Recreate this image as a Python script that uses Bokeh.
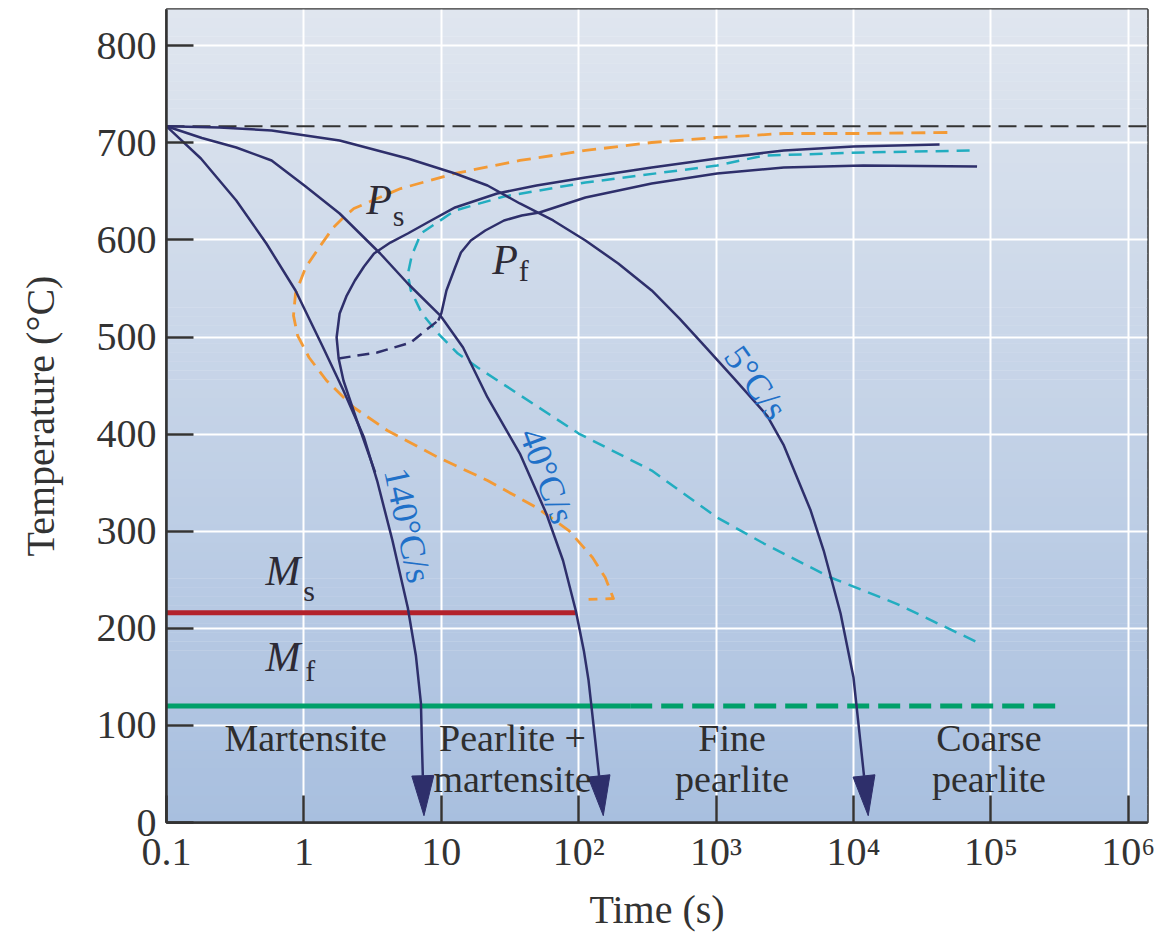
import math
from bokeh.plotting import figure
from bokeh.models import Range1d, FixedTicker
from bokeh.core.properties import value
from bokeh.embed import file_html
from bokeh.resources import INLINE

# ---------------- data (time in s, temperature in degC) ----------------
x_ticks = [0.1, 1, 10, 100, 1000, 10000, 100000, 1000000]
x_tick_labels = ["0.1", "1", "10", "10²", "10³", "10⁴", "10⁵", "10⁶"]
y_ticks = [0, 100, 200, 300, 400, 500, 600, 700, 800]

eutectoid_T = 717

rate140_t = [0.1, 0.178, 0.322, 0.533, 0.869, 1.38, 1.94, 2.74, 3.41, 4.41, 5.7, 6.53, 7.11, 7.23, 7.48]
rate140_T = [717, 683.8, 640.6, 596.3, 547.9, 489.2, 444.9, 396.5, 352.2, 290.4, 221.4, 172, 122.6, 79.3, 7]

rate40_t = [0.1, 0.181, 0.322, 0.582, 1.03, 1.82, 3.59, 5.7, 9.84, 14.4, 21.7, 37.3, 58.1, 76.9, 95.2, 109, 118, 132, 151]
rate40_T = [717, 705, 695.2, 681.8, 655, 627.2, 586, 555.1, 522.1, 489.2, 437.7, 380, 318.2, 269.8, 218.3, 177, 146.2, 84.4, 7]

rate5_t = [0.1, 0.243, 0.582, 1.82, 5.7, 12.6, 21.7, 37.3, 65.2, 112, 194, 340, 542, 820, 1349, 2344, 3112,
           4880, 6067, 8054, 10000, 11200, 12800]
rate5_T = [717, 715.8, 712.7, 702.4, 683.8, 668.4, 656, 637.5, 620, 599.4, 575.7, 547.9, 519, 491.2, 457.3, 419.2, 388.3,
           321.3, 280.1, 215.2, 149.3, 84.4, 7]

start_t = [3.30, 2.43, 1.94, 1.79, 1.73, 1.82, 2.05, 2.35, 2.74, 3.24, 4.26, 5.7, 8.43, 12.6, 25.5, 49.3, 112,
           340, 1017, 3112, 10000, 42300]
start_T = [360.5, 414, 455.2, 477.9, 499.5, 524.2, 542.7, 558.2, 572.6, 586, 597.3, 606.6, 620, 633.4, 647.8, 656,
           664.3, 674.6, 683.8, 692.1, 696.2, 698.3]

finish_t = [9.5, 10, 10.9, 12.6, 13.9, 16.4, 20.9, 28.6, 38.5, 51.8, 112, 340, 1017, 3112, 11800, 79300]
finish_T = [517, 524.2, 547.9, 571.6, 587, 599.4, 609.7, 620, 625.1, 628.2, 643.7, 658.1, 668.4, 674.6, 676.6, 675.6]

connect_t = [1.79, 3.41, 6.0, 8.0, 9.5]
connect_T = [477.9, 484, 494.3, 508.8, 517]

cyan_t = [70000, 11800, 2228, 1017, 112, 28.6, 12.6, 7.11, 6.1, 5.7, 6.0, 7.23, 9.5, 13.2, 18.4,
          100, 340, 1017, 2228, 6810, 20400, 83400]
cyan_T = [692, 690, 686.9, 676.6, 659.1, 644.7, 630.3, 606.6, 584, 564.4, 547.9, 524.2, 503.6, 483, 468.6,
          400.6, 362.5, 314.1, 287.3, 252.3, 225.5, 184.3]

orange_t = [48200, 11800, 3112, 1017, 340, 112, 37.3, 12.6, 5.06, 3.41, 2.31, 1.94, 1.64, 1.29, 1.03, 0.869, 0.84,
            0.90, 1.09, 1.46, 2.31, 4.05, 9.5, 21.7, 49.3, 84.8, 126, 156, 179, 118]
orange_T = [710.6, 709.6, 709.6, 705.5, 700.3, 692.1, 681.8, 668.4, 652.9, 642.6, 632.3, 623, 612.8, 592.2, 571.6,
            544.8, 522, 501.5, 478.9, 455.2, 427.4, 403.7, 375.9, 352.2, 324.4, 300.7, 272.9, 252.3, 230.7, 229.7]

ms_T = 216
ms_t_end = 95.2
mf_T = 120
mf_solid_end = 237
mf_dash_end = 324000

rate_labels = ["140°C/s", "40°C/s", "5°C/s"]
rate_label_t = [5.7, 59, 1950]
rate_label_T = [306, 357, 453]
rate_label_angle_deg = [-78, -70, -54.5]

region_line1 = ["Martensite", "Pearlite +", "Fine", "Coarse"]
region_line2 = ["", "martensite", "pearlite", "pearlite"]
region_t = [1.03, 33, 1306, 96800]
region_T1 = 87.5
region_T2 = 45.3

sym_main = ["P", "P", "M", "M"]
sym_sub = ["s", "f", "s", "f"]
sym_t = [3.53, 29.1, 0.705, 0.705]
sym_T = [640.6, 578.8, 258.5, 170]
sub_t = [4.89, 39.8, 1.09, 1.11]
sub_T = [625, 568.5, 239, 156.5]

# ---------------- layout ----------------
W, H = 1155, 935
BL, BR, BT, BB = 166, 8, 9, 113
frame_w = W - BL - BR
frame_h = H - BT - BB
K = 137.4          # px per decade
S = 0.971          # px per degC
x_min = 0.1
x_max = 10 ** (math.log10(x_min) + frame_w / K)
y_max = frame_h / S

NAVY = "#2e2f6b"
ORANGE = "#f39a35"
CYAN = "#22adc0"
RED = "#b3222b"
GREEN = "#00a06a"
BLUE_TXT = "#1f70c8"
SERIF = "Liberation Serif"

p = figure(width=W, height=H, x_axis_type="log", output_backend="svg", toolbar_location=None,
           x_range=Range1d(x_min, x_max), y_range=Range1d(0, y_max),
           min_border_left=BL, min_border_right=BR, min_border_top=BT, min_border_bottom=BB)
p.border_fill_color = "white"
p.outline_line_color = "#333333"
p.outline_line_width = 2.5

# gradient background (stripes)
n = 90
bot_c = (168, 191, 223)
top_c = (224, 230, 239)
lefts, rights, bots, tops, cols = [], [], [], [], []
for i in range(n):
    f = (i + 0.5) / n
    c = tuple(int(round(bot_c[k] + (top_c[k] - bot_c[k]) * f)) for k in range(3))
    lefts.append(x_min)
    rights.append(x_max)
    bots.append(i * y_max / n)
    tops.append((i + 1.05) * y_max / n)
    cols.append("#%02x%02x%02x" % c)
bg = p.quad(left=lefts, right=rights, bottom=bots, top=tops, fill_color=cols, line_color=None)
bg.level = "image"

# axes
p.xaxis.ticker = FixedTicker(ticks=x_ticks, minor_ticks=[])
p.yaxis.ticker = FixedTicker(ticks=y_ticks, minor_ticks=[])
p.xaxis.major_label_overrides = {(t if t < 1 else int(t)): lab for t, lab in zip(x_ticks, x_tick_labels)}
p.xgrid.ticker = FixedTicker(ticks=x_ticks[1:])
p.ygrid.ticker = FixedTicker(ticks=y_ticks[1:])
p.grid.grid_line_color = "white"
p.grid.grid_line_width = 2
p.grid.grid_line_alpha = 1.0
for ax in (p.xaxis, p.yaxis):
    ax.axis_line_color = "#333333"
    ax.axis_line_width = 2.5
    ax.major_tick_line_color = "#333333"
    ax.major_tick_line_width = 2.5
    ax.major_tick_out = 0
    ax.major_tick_in = 27
    ax.minor_tick_line_color = None
    ax.major_label_text_font = SERIF
    ax.major_label_text_font_size = "40px"
    ax.major_label_text_color = "#333333"
    ax.axis_label_text_font = SERIF
    ax.axis_label_text_font_size = "40px"
    ax.axis_label_text_font_style = "normal"
    ax.axis_label_text_color = "#333333"
p.xaxis.axis_label = "Time (s)"
p.yaxis.axis_label = "Temperature (°C)"
p.xaxis.major_label_standoff = 6
p.xaxis.axis_label_standoff = 10
p.yaxis.major_label_standoff = 10
p.yaxis.axis_label_standoff = 31

# reference lines
p.line([x_min, x_max], [eutectoid_T, eutectoid_T], line_color="#333333", line_width=2, line_dash="18 8")
p.line([x_min, ms_t_end], [ms_T, ms_T], line_color=RED, line_width=5)
p.line([x_min, mf_solid_end], [mf_T, mf_T], line_color=GREEN, line_width=5)
p.line([mf_solid_end, mf_dash_end], [mf_T, mf_T], line_color=GREEN, line_width=5, line_dash="22 9")

# transformation curves
p.line(orange_t, orange_T, line_color=ORANGE, line_width=2.8, line_dash="14 8", line_join="round")
p.line(cyan_t, cyan_T, line_color=CYAN, line_width=2.5, line_dash="13 8", line_join="round")
p.line(start_t, start_T, line_color=NAVY, line_width=2.5, line_join="round")
p.line(finish_t, finish_T, line_color=NAVY, line_width=2.5, line_join="round")
p.line(connect_t, connect_T, line_color=NAVY, line_width=2.5, line_dash="12 7")

# cooling curves with arrow heads
def arrow_curve(ts, Ts):
    xt, yt = math.log10(ts[-1]), Ts[-1]
    xp, yp = math.log10(ts[-2]), Ts[-2]
    dx, dy = (xt - xp) * K, (yt - yp) * S
    nrm = math.hypot(dx, dy)
    ux, uy = dx / nrm, dy / nrm
    L, hw = 40.0, 11.0
    bx, by = -L * ux, -L * uy
    px_, py_ = -uy * hw, ux * hw
    base = (10 ** (xt + bx / K), yt + by / S)
    c1 = (10 ** (xt + (bx + px_) / K), yt + (by + py_) / S)
    c2 = (10 ** (xt + (bx - px_) / K), yt + (by - py_) / S)
    p.line(list(ts[:-1]) + [base[0]], list(Ts[:-1]) + [base[1]], line_color=NAVY, line_width=2.5,
           line_join="round")
    p.patch([ts[-1], c1[0], c2[0]], [Ts[-1], c1[1], c2[1]], fill_color=NAVY, line_color=NAVY, line_width=1)

arrow_curve(rate140_t, rate140_T)
arrow_curve(rate40_t, rate40_T)
arrow_curve(rate5_t, rate5_T)

# labels
p.text(x=rate_label_t, y=rate_label_T, text=rate_labels,
       angle=[math.radians(a) for a in rate_label_angle_deg],
       text_font=value(SERIF), text_font_size=value("36px"), text_color=BLUE_TXT,
       text_align="center", text_baseline="middle")
p.text(x=region_t, y=[region_T1] * 4, text=region_line1, text_font=value(SERIF),
       text_font_size=value("38px"), text_color="#2e2e2e", text_align="center", text_baseline="middle")
p.text(x=region_t, y=[region_T2] * 4, text=region_line2, text_font=value(SERIF),
       text_font_size=value("38px"), text_color="#2e2e2e", text_align="center", text_baseline="middle")
p.text(x=sym_t, y=sym_T, text=sym_main, text_font=value(SERIF), text_font_style="italic",
       text_font_size=value("42px"), text_color="#2d2a35", text_align="center", text_baseline="middle")
p.text(x=sub_t, y=sub_T, text=sym_sub, text_font=value(SERIF),
       text_font_size=value("30px"), text_color="#2d2a35", text_align="center", text_baseline="middle")

open("out.html", "w").write(file_html(p, INLINE))
